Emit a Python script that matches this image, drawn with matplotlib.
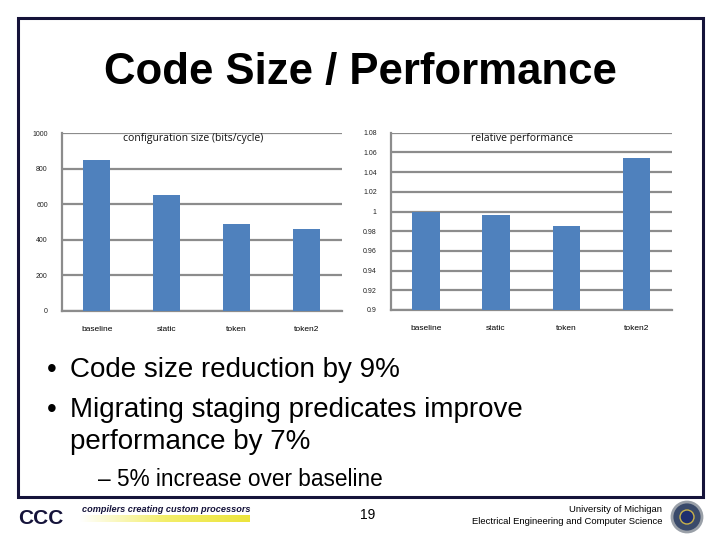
import matplotlib
matplotlib.use("Agg")
import matplotlib.pyplot as plt
import numpy as np
from matplotlib.patches import Rectangle, Circle

categories = ["baseline", "static", "token", "token2"]
config_size = [850, 654, 488, 461]
rel_perf = [1.0, 0.996, 0.985, 1.054]
left_ticks = [0, 200, 400, 600, 800, 1000]
left_ticklabels = ["0", "200", "400", "600", "800", "1000"]
right_ticks = [0.9, 0.92, 0.94, 0.96, 0.98, 1.0, 1.02, 1.04, 1.06, 1.08]
right_ticklabels = ["0.9", "0.92", "0.94", "0.96", "0.98", "1", "1.02", "1.04", "1.06", "1.08"]

BAR = "#4F81BD"
GRID = "#8c8c8c"
NAVY = "#15133a"

W, H = 720, 540
fig = plt.figure(figsize=(7.2, 5.4), dpi=100)
fig.patch.set_facecolor("white")

def px(x0, y0, x1, y1):
    return [x0 / W, 1 - y1 / H, (x1 - x0) / W, (y1 - y0) / H]

# slide frame
frame = fig.add_axes([0, 0, 1, 1])
frame.set_xlim(0, W)
frame.set_ylim(H, 0)
frame.axis("off")
frame.add_patch(Rectangle((18, 18), 685, 479, fill=False, edgecolor=NAVY, linewidth=2.2))

fig.text(360 / W, 1 - 84 / H, "Code Size / Performance", ha="center", va="baseline",
         fontsize=31.5, fontweight="bold", family="Liberation Sans")

def bar_chart(rect, values, ticks, ticklabels, ylim, title, title_x):
    ax = fig.add_axes(px(*rect))
    x = np.arange(len(categories))
    ax.bar(x, values, width=0.39, color=BAR, zorder=3)
    ax.set_xlim(-0.5, len(categories) - 0.5)
    ax.set_ylim(*ylim)
    ax.set_yticks(ticks)
    ax.set_yticklabels(ticklabels, fontsize=5, color="#222222", family="Liberation Sans")
    ax.set_xticks(x)
    ax.set_xticklabels(categories, fontsize=6, family="Liberation Sans")
    ax.tick_params(axis="both", length=0)
    ax.tick_params(axis="y", pad=10)
    ax.tick_params(axis="x", pad=11)
    ax.yaxis.grid(True, color=GRID, linewidth=1.6, zorder=0)
    ax.set_axisbelow(True)
    for s in ["top", "right"]:
        ax.spines[s].set_visible(False)
    for s in ["left", "bottom"]:
        ax.spines[s].set_color(GRID)
        ax.spines[s].set_linewidth(1.6)
    fig.text(title_x / W, 1 - 139 / H, title, ha="center", va="center",
             fontsize=7.5, family="Open Sans", color="#111111")
    return ax

bar_chart((61.7, 133.3, 341.7, 310.7), config_size, left_ticks, left_ticklabels,
          (0, 1000), "configuration size (bits/cycle)", 193)
bar_chart((390.7, 132.7, 671.7, 310.0), rel_perf, right_ticks, right_ticklabels,
          (0.9, 1.08), "relative performance", 522)

# bullets
body = dict(fontsize=20, family="Liberation Sans", va="center", ha="left", color="black")
fig.text(47 / W, 1 - 370 / H, "•", **body)
fig.text(70 / W, 1 - 370 / H, "Code size reduction by 9%", **body)
fig.text(47 / W, 1 - 410 / H, "•", **body)
fig.text(70 / W, 1 - 410 / H, "Migrating staging predicates improve", **body)
fig.text(70 / W, 1 - 442 / H, "performance by 7%", **body)
sub = dict(body)
sub["fontsize"] = 16.3
fig.text(98 / W, 1 - 480 / H, "– 5% increase over baseline", **sub)

# footer
fig.text(18 / W, 1 - 518 / H, "CCC", fontsize=15, fontweight="bold", color=NAVY,
         family="Liberation Sans", va="center", ha="left")
fig.text(82 / W, 1 - 509 / H, "compilers creating custom processors", fontsize=6.6,
         fontweight="bold", style="italic", color=NAVY, family="Liberation Sans",
         va="center", ha="left")
grad = np.linspace(0, 1, 256).reshape(1, -1)
gax = fig.add_axes(px(80, 515, 250, 522))
gax.imshow(grad, aspect="auto", cmap=matplotlib.colors.LinearSegmentedColormap.from_list(
    "y", ["#ffffff", "#f3ee6a", "#ece43c"]))
gax.axis("off")

fig.text(368 / W, 1 - 515 / H, "19", fontsize=10, family="Liberation Sans",
         va="center", ha="center")
fig.text(662 / W, 1 - 510 / H, "University of Michigan", fontsize=6.8, family="Liberation Sans",
         va="center", ha="right")
fig.text(662 / W, 1 - 522 / H, "Electrical Engineering and Computer Science", fontsize=6.8,
         family="Liberation Sans", va="center", ha="right")
frame.add_patch(Circle((687, 517), 15, facecolor="#3a4a6a", edgecolor="#9aa0a8", linewidth=2))
frame.add_patch(Circle((687, 517), 7, facecolor="#1f2f6f", edgecolor="#c9b24a", linewidth=1))

fig.savefig("out.png", dpi=100)
